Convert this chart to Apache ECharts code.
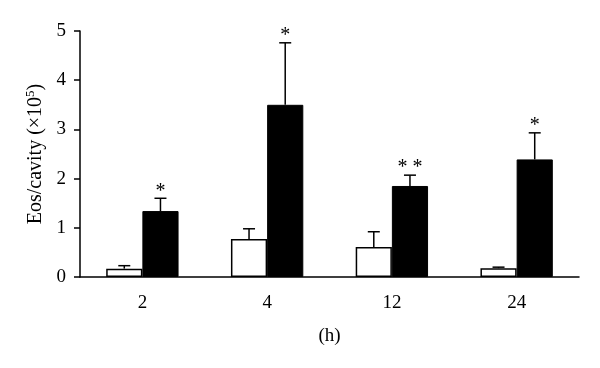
<!DOCTYPE html>
<html>
<head>
<meta charset="utf-8">
<script src="https://cdn.jsdelivr.net/npm/echarts@6/dist/echarts.min.js"></script>
<style>
  html, body { margin: 0; padding: 0; background: #fff; }
  #chart { width: 600px; height: 368px; }
</style>
</head>
<body>
<div id="chart"></div>
<script>
// data
const categories = ['2', '4', '12', '24'];
const controlMean = [0.17, 0.77, 0.61, 0.18];
const controlErr = [0.06, 0.21, 0.31, 0.02];
const treatedMean = [1.34, 3.50, 1.85, 2.39];
const treatedErr = [0.26, 1.26, 0.22, 0.54];
const marks = ['*', '*', '* *', '*'];

const BAR_PCT = 0.29;
const FONT = 'Liberation Serif';

const myChart = echarts.init(document.getElementById('chart'));

// error bar + asterisk drawing, side = -1 (white) or 1 (black)
const errorBar = (means, errs, side, withMarks) => ({
  type: 'custom',
  silent: true,
  z: 5,
  data: means.map((m, i) => [i, m, m + errs[i]]),
  renderItem: (params, api) => {
    const idx = api.value(0);
    const band = api.size([1, 0])[0];
    const off = side * band * BAR_PCT / 2;
    const base = api.coord([idx, api.value(1)]);
    const top = api.coord([idx, api.value(2)]);
    const x = base[0] + off;
    const half = 6;
    const children = [
      { type: 'line', shape: { x1: x, y1: base[1], x2: x, y2: top[1] }, style: { stroke: '#000', lineWidth: 1.5 } },
      { type: 'line', shape: { x1: x - half, y1: top[1], x2: x + half, y2: top[1] }, style: { stroke: '#000', lineWidth: 1.5 } }
    ];
    if (withMarks) {
      children.push({
        type: 'text',
        style: {
          text: marks[idx], x: x, y: top[1] + 3,
          align: 'center', verticalAlign: 'bottom',
          fontFamily: FONT, fontSize: 20, fill: '#000'
        }
      });
    }
    return { type: 'group', children };
  }
});

const option = {
  animation: false,
  grid: { left: 80, right: 21, top: 31, bottom: 91 },
  xAxis: {
    type: 'category',
    data: categories,
    name: '(h)',
    nameLocation: 'middle',
    nameGap: 50,
    nameTextStyle: { color: '#000', fontFamily: FONT, fontSize: 19 },
    axisLine: { lineStyle: { color: '#000', width: 1.5 } },
    axisTick: { length: 6, lineStyle: { color: '#000', width: 1.5 } },
    axisLabel: { color: '#000', fontFamily: FONT, fontSize: 19, margin: 17 }
  },
  yAxis: {
    type: 'value',
    min: 0,
    max: 5,
    interval: 1,
    name: '{a|Eos/cavity (×10}{s|5}{a|)}',
    nameLocation: 'middle',
    nameGap: 32,
    nameTextStyle: {
      rich: {
        a: { color: '#000', fontFamily: FONT, fontSize: 20 },
        s: { color: '#000', fontFamily: FONT, fontSize: 13, verticalAlign: 'bottom', padding: [0, 0, 10, 0] }
      }
    },
    axisLine: { show: true, lineStyle: { color: '#000', width: 1.5 } },
    axisTick: { show: true, length: 6, lineStyle: { color: '#000', width: 1.5 } },
    axisLabel: { color: '#000', fontFamily: FONT, fontSize: 19, margin: 14 },
    splitLine: { show: false }
  },
  series: [
    errorBar(controlMean, controlErr, -1, false),
    errorBar(treatedMean, treatedErr, 1, true),
    {
      type: 'bar',
      data: controlMean,
      barWidth: (BAR_PCT * 100) + '%',
      barGap: '0%',
      z: 6,
      itemStyle: { color: '#fff', borderColor: '#000', borderWidth: 1.5 }
    },
    {
      type: 'bar',
      data: treatedMean,
      barWidth: (BAR_PCT * 100) + '%',
      barGap: '0%',
      z: 6,
      itemStyle: { color: '#000', borderColor: '#000', borderWidth: 1 }
    }
  ]
};

myChart.setOption(option);
</script>
</body>
</html>
